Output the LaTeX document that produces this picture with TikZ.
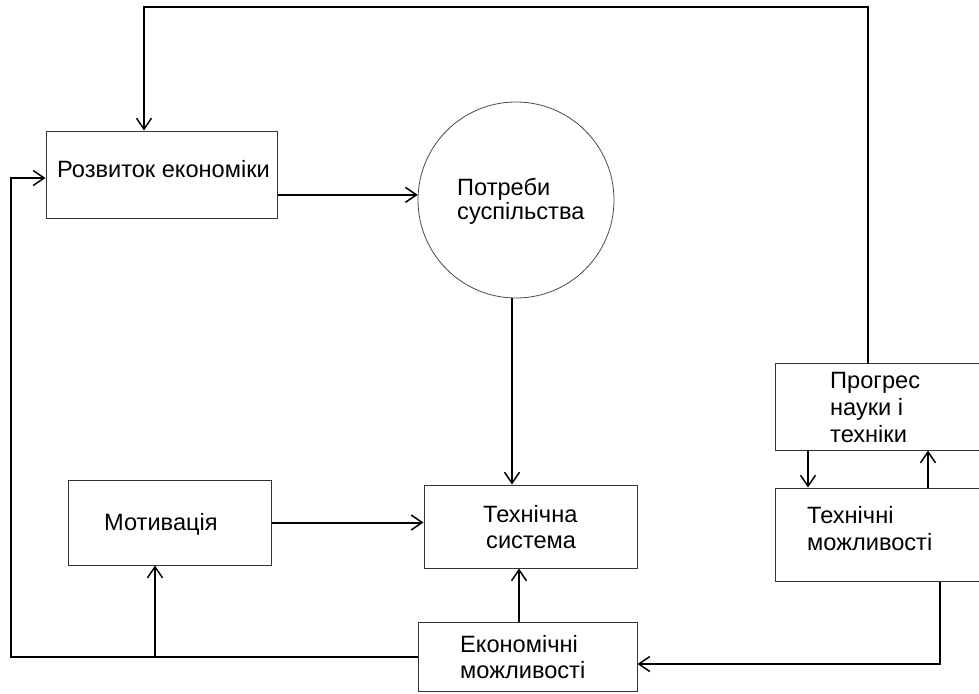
\documentclass[tikz,border=0pt]{standalone}
\usepackage{fontspec}
\setmainfont{Liberation Sans}
\usetikzlibrary{arrows.meta}
\begin{document}
\begin{tikzpicture}[x=1pt,y=-1pt,
  box/.style={draw=black!80,line width=1pt,rectangle,inner sep=0pt,fill=white},
  circ/.style={draw=black!70,line width=0.8pt,circle,inner sep=0pt,minimum size=196pt},
  conn/.style={line width=2pt},
  arr/.style={conn,-{Straight Barb[length=11pt,width=15pt,line width=1.5pt]}},
  lbl/.style={anchor=base west,inner sep=0pt,font=\fontsize{23.6}{26}\selectfont}]
\useasboundingbox (0,0) rectangle (979,693);
% boxes
\node[box,minimum width=231pt,minimum height=87pt] (rozv) at (161.5,174.5) {};
\node[circ] (potr) at (516,200) {};
\node[box,minimum width=213pt,minimum height=83pt] (tech) at (530.5,526.5) {};
\node[box,minimum width=203pt,minimum height=85pt] (motiv) at (169.5,522.5) {};
\node[box,minimum width=219pt,minimum height=69pt] (econ) at (527.5,656.5) {};
\node[box,minimum width=215pt,minimum height=87pt] (prog) at (882.5,406.5) {};
\node[box,minimum width=215pt,minimum height=93pt] (tmozh) at (882.5,534.5) {};
% texts
\node[lbl] (t1) at (57,177) {Розвиток економіки};
\node[lbl] (t2a) at (457,195) {Потреби};
\node[lbl] (t2b) at (457,219) {суспільства};
\node[lbl] (t3) at (104,530) {Мотивація};
\node[lbl] (t4a) at (483,522) {Технічна};
\node[lbl] (t4b) at (486,548) {система};
\node[lbl] (t5a) at (460,652) {Економічні};
\node[lbl] (t5b) at (460,678) {можливості};
\node[lbl] (t6a) at (830,388) {Прогрес};
\node[lbl] (t6b) at (830,415) {науки і};
\node[lbl] (t6c) at (830,442) {техніки};
\node[lbl] (t7a) at (807,523) {Технічні};
\node[lbl] (t7b) at (807,550) {можливості};
% helper coordinates
\coordinate (tr) at (868,7);
\coordinate (tl) at (144,7);
\coordinate (lt) at (11,178);
\coordinate (br) at (155,657);
\coordinate (cx) at (519,0);
\coordinate (d1) at (808,0);
\coordinate (u1) at (928,0);
\coordinate (rx) at (940,664);
% connectors
\draw[arr] (prog.north -| tr) -- (tr) -- (tl) -- (rozv.north -| tl);
\draw[arr] (rozv.east |- potr.177) -- (potr.177);
\draw[arr] (potr.south -| 512,0) -- (tech.north -| 512,0);
\draw[arr] (motiv.east) -- (motiv.east -| tech.west);
\draw[arr] (econ.north -| cx) -- (tech.south -| cx);
\draw[arr] (econ.west) -| (lt) -- (rozv.west |- lt);
\draw[arr] (br) -- (motiv.south -| br);
\draw[arr] (prog.south -| d1) -- (tmozh.north -| d1);
\draw[arr] (tmozh.north -| u1) -- (prog.south -| u1);
\draw[arr] (tmozh.south -| rx) -- (rx) -- (econ.east |- rx);
\end{tikzpicture}
\end{document}
